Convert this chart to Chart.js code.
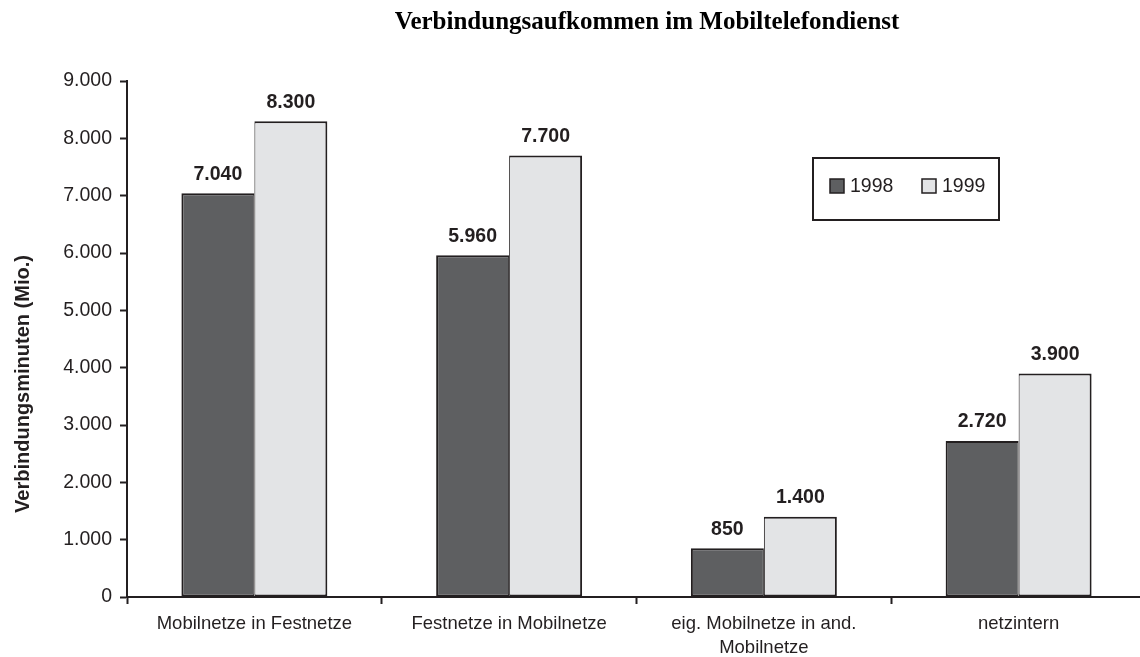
<!DOCTYPE html>
<html>
<head>
<meta charset="utf-8">
<script src="https://cdn.jsdelivr.net/npm/chart.js@4/dist/chart.umd.min.js"></script>
<style>
  html, body { margin: 0; padding: 0; background: #ffffff; overflow: hidden; }
  #wrap { width: 1140px; height: 657px; overflow: hidden; position: relative; }
  canvas { display: block; }
</style>
</head>
<body>
<div id="wrap"><canvas id="c" width="1146" height="657"></canvas></div>
<script>
const chartTitle = 'Verbindungsaufkommen im Mobiltelefondienst';
const yAxisTitle = 'Verbindungsminuten (Mio.)';
const categories = [
  'Mobilnetze in Festnetze',
  'Festnetze in Mobilnetze',
  ['eig. Mobilnetze in and.', 'Mobilnetze'],
  'netzintern'
];
const seriesNames = ['1998', '1999'];
const values1998 = [7040, 5960, 850, 2720];
const values1999 = [8300, 7700, 1400, 3900];
const yMin = 0;
const yMax = 9000;
const yStep = 1000;

const INK = '#231f20';
const fmt = v => String(v).replace(/\B(?=(\d{3})+(?!\d))/g, '.');

const extras = {
  id: 'extras',
  afterDatasetsDraw(chart) {
    const ctx = chart.ctx;
    ctx.save();
    ctx.font = 'bold 19.5px "Liberation Sans", Arial, sans-serif';
    ctx.fillStyle = INK;
    ctx.textAlign = 'center';
    ctx.textBaseline = 'middle';
    chart.data.datasets.forEach((ds, i) => {
      const meta = chart.getDatasetMeta(i);
      meta.data.forEach((bar, j) => {
        ctx.fillText(fmt(ds.data[j]), bar.x, bar.y - 19);
      });
    });
    ctx.restore();
  },
  afterDraw(chart) {
    const ctx = chart.ctx;
    // title
    ctx.save();
    ctx.font = 'bold 25px "Liberation Serif", "Times New Roman", serif';
    ctx.fillStyle = '#000000';
    ctx.textAlign = 'center';
    ctx.textBaseline = 'alphabetic';
    ctx.fillText(chartTitle, 647, 29);
    ctx.restore();
    // y axis title
    ctx.save();
    ctx.translate(29, 384);
    ctx.rotate(-Math.PI / 2);
    ctx.font = 'bold 20px "Liberation Sans", Arial, sans-serif';
    ctx.fillStyle = INK;
    ctx.textAlign = 'center';
    ctx.textBaseline = 'alphabetic';
    ctx.fillText(yAxisTitle, 0, 0);
    ctx.restore();
    // legend box
    ctx.save();
    ctx.strokeStyle = INK;
    ctx.lineWidth = 2;
    ctx.strokeRect(813, 158, 186, 62);
    ctx.font = '19.5px "Liberation Sans", Arial, sans-serif';
    ctx.textAlign = 'left';
    ctx.textBaseline = 'middle';
    chart.data.datasets.forEach((ds, i) => {
      const x = 830 + i * 92;
      ctx.fillStyle = ds.backgroundColor;
      ctx.fillRect(x, 179, 14, 14);
      ctx.lineWidth = 1.5;
      ctx.strokeStyle = INK;
      ctx.strokeRect(x, 179, 14, 14);
      ctx.fillStyle = INK;
      ctx.fillText(ds.label, x + 20, 187);
    });
    ctx.restore();
  }
};

new Chart(document.getElementById('c'), {
  type: 'bar',
  data: {
    labels: categories,
    datasets: [
      {
        label: seriesNames[0],
        data: values1998,
        backgroundColor: '#5e5f61',
        borderColor: INK,
        borderWidth: { top: 2, left: 2, right: 1, bottom: 2 },
        borderSkipped: false,
        categoryPercentage: 0.573,
        barPercentage: 1.0
      },
      {
        label: seriesNames[1],
        data: values1999,
        backgroundColor: '#e3e4e6',
        borderColor: INK,
        borderWidth: { top: 2, left: 1, right: 2, bottom: 2 },
        borderSkipped: false,
        categoryPercentage: 0.573,
        barPercentage: 1.0
      }
    ]
  },
  options: {
    responsive: false,
    animation: false,
    devicePixelRatio: 1,
    layout: { padding: { top: 81, left: 0, right: 0, bottom: 0 } },
    plugins: {
      legend: { display: false },
      title: { display: false },
      tooltip: { enabled: false }
    },
    scales: {
      x: {
        offset: true,
        grid: {
          offset: true,
          drawOnChartArea: false,
          drawTicks: true,
          tickLength: 7,
          tickColor: INK,
          tickWidth: 2
        },
        border: { display: true, color: INK, width: 2 },
        ticks: {
          color: INK,
          padding: 8,
          maxRotation: 0,
          autoSkip: false,
          font: { family: '"Liberation Sans", Arial, sans-serif', size: 18.5, lineHeight: 1.3 }
        },
        afterFit(scale) { scale.height = 60; }
      },
      y: {
        min: yMin,
        max: yMax,
        grid: {
          drawOnChartArea: false,
          drawTicks: true,
          tickLength: 7,
          tickColor: INK,
          tickWidth: 2
        },
        border: { display: true, color: INK, width: 2 },
        ticks: {
          stepSize: yStep,
          color: INK,
          padding: 8,
          font: { family: '"Liberation Sans", Arial, sans-serif', size: 19.5 },
          callback: v => fmt(v)
        },
        afterFit(scale) { scale.width = 127; }
      }
    }
  },
  plugins: [extras]
});
</script>
</body>
</html>
